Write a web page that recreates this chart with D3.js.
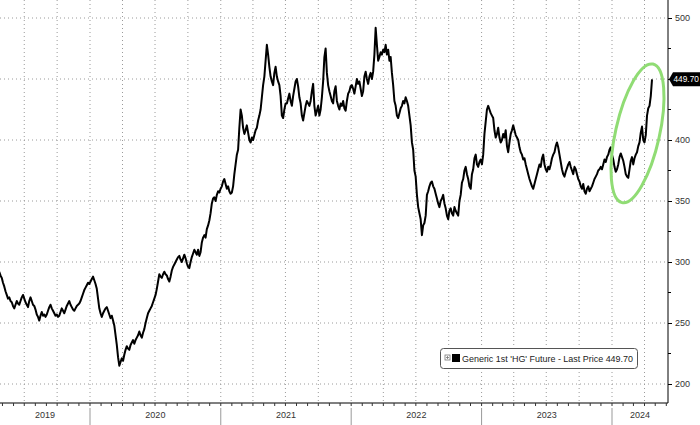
<!DOCTYPE html>
<html><head><meta charset="utf-8">
<script src="https://cdn.jsdelivr.net/npm/d3@7"></script>
<style>html,body{margin:0;padding:0;background:#fff;}svg{display:block;}</style>
</head><body>
<svg id="c" width="700" height="425"></svg>
<script>
// ---- data (twice-weekly readings, HG copper front-month, US cents/lb) ----
const startDate = "2019-04-22";
const values2019 = [292,289,287,283, 280,276,273,270,271,268,267,264, 262,265,268,266,265,268,271,273,
  270,267,265,263,268,271,268,265,264,261, 257,255,252,256,259,256,257,255,
  257,260,263,265,262,260,258,256,257,255, 256,259,262,260,258,261,264,266,
  268,265,263,261,260,262,264,265, 266,268,271,274,277,279,281,283,282,284];
const values2020 = [286,288,285,282,278,270,262,258, 255,258,260,262,263,260,257,254,
  256,252,248,240,232,222,215,218,221,219, 224,228,231,229,228,232,234,236,
  233,236,238,240,243,240,238,242, 245,250,254,258,260,262,264,267,270,273,
  278,284,290,288,287,290,292,290, 289,286,284,288,293,296,298,300,302,304,
  305,302,300,303,306,303,299,296, 295,300,304,307,310,308,306,310,
  305,308,316,320,322,320,327,330,334,340, 348,352,353,350,355,358,357,360];
const values2021 = [362,366,368,364,360,362,358,356, 357,362,372,380,388,392,410,425,
  420,410,405,408,412,406,400,398,402,400, 404,408,410,416,420,425,435,445,
  452,465,478,470,460,452,448,445,455,460, 452,448,445,436,420,418,425,430,
  430,434,438,432,428,436,442,448, 450,444,435,430,420,416,422,428,432,430,
  428,432,440,446,428,420,424,428, 420,425,435,448,468,475,455,445,
  440,436,432,430,440,444,432,428,425,430, 428,432,426,424,432,438,440,444];
const values2022 = [445,442,438,444,450,446,448,442,436,440, 452,456,450,446,452,455,450,456,
  470,492,478,465,468,472,470,474, 472,478,470,474,465,468,455,445,
  432,428,420,418,422,426,428,432,430,435, 432,428,420,412,398,392,375,370,
  355,345,340,335,322,330,332,338, 355,358,362,365,366,362,360,356,352,348,
  345,350,352,355,348,344,338,335, 342,344,340,338,345,342,340,338,350,355,
  365,368,375,378,372,368,362,360, 372,376,385,388,380,378,382,384];
const values2023 = [380,388,405,415,425,428,425,422,420,418, 408,402,405,410,402,398,400,405,
  402,408,395,390,398,405,408,412, 408,404,402,400,394,390,388,384,
  385,380,376,372,368,365,362,360,364,368, 372,376,380,378,385,388,380,376,
  374,378,376,380,385,388,390,395,398,394, 388,382,376,372,370,374,377,380,
  382,378,375,372,378,376,372,368, 366,362,360,364,358,356,360,362,358,360,
  362,365,368,370,372,375,376,378, 376,380,384,382,386,388,392,394];
const values2024 = [388,384,378,374,376,380,386,389,386,383, 378,372,370,369,376,383,386,380,
  385,388,390,395,398,406,411,400, 398,404,420,426,428,436,449.70];
const lastPrice = "449.70";
const yTicks = [200,250,300,350,400,450,500];
const yMinor = [225,275,325,375,425,475];
const yearLabels = ["2019","2020","2021","2022","2023","2024"];
const legendText = "Generic 1st 'HG' Future - Last Price 449.70";

const values = [].concat(values2019, values2020, values2021, values2022, values2023, values2024);
const t0 = d3.timeParse("%Y-%m-%d")(startDate);
const data = values.map((v,i)=>({date: d3.timeHour.offset(t0, i*84), value: v}));

const W = 700, H = 425, plotR = 668, plotB = 403;
const FONT = "Liberation Sans, Arial, sans-serif";
const svg = d3.select("#c");
const x = d3.scaleTime().domain([new Date(2020,0,1), new Date(2024,0,1)]).range([90, 612]);
const y = d3.scaleLinear().domain([200,500]).range([384,18]);
const xStart = x.invert(0), xEnd = x.invert(plotR);

// gridlines
const quarters = d3.timeMonth.every(3).range(xStart, xEnd);
svg.append("g").selectAll("line").data(quarters).join("line")
  .attr("x1", d=>x(d)).attr("x2", d=>x(d)).attr("y1", 0).attr("y2", plotB)
  .attr("stroke", "#9a9a9a").attr("stroke-width", 1).attr("stroke-dasharray", "1,3");
svg.append("g").selectAll("line").data(yTicks).join("line")
  .attr("x1", 0).attr("x2", plotR).attr("y1", d=>y(d)).attr("y2", d=>y(d))
  .attr("stroke", "#9a9a9a").attr("stroke-width", 1).attr("stroke-dasharray", "1,3");

// price line
const line = d3.line().x(d=>x(d.date)).y(d=>y(d.value));
svg.append("path").datum(data).attr("d", line)
  .attr("fill", "none").attr("stroke", "#000").attr("stroke-width", 2).attr("stroke-linejoin", "round");

// green ellipse highlight
const last = data[data.length-1];
svg.append("ellipse")
  .attr("cx", 0).attr("cy", 0).attr("rx", 22).attr("ry", 71)
  .attr("transform", `translate(${x(last.date)-14.5},${y(last.value)+54}) rotate(12.6)`)
  .attr("fill", "none").attr("stroke", "#90dc74").attr("stroke-width", 3);

// right axis (450 label is hidden behind the last-price tag)
const yAxis = d3.axisRight(y).tickValues(yTicks).tickSize(4).tickPadding(3)
  .tickFormat(d => d === 450 ? "" : d);
const ga = svg.append("g").attr("transform", `translate(${plotR},0)`).call(yAxis);
ga.select(".domain").remove();
ga.selectAll("text").attr("font-family", FONT).attr("font-size", 9).attr("fill", "#333");
ga.selectAll("line").attr("stroke", "#000");
svg.append("g").selectAll("line").data(yMinor).join("line")
  .attr("x1", plotR).attr("x2", plotR+3).attr("y1", d=>y(d)).attr("y2", d=>y(d)).attr("stroke", "#000");
svg.append("line").attr("x1", plotR).attr("x2", plotR).attr("y1", 0).attr("y2", plotB).attr("stroke", "#000");

// bottom axis
svg.append("line").attr("x1", 0).attr("x2", plotR).attr("y1", plotB).attr("y2", plotB).attr("stroke", "#000");
const months = d3.timeMonth.every(1).range(xStart, xEnd);
svg.append("g").selectAll("line").data(months).join("line")
  .attr("x1", d=>x(d)).attr("x2", d=>x(d)).attr("y1", plotB).attr("y2", plotB+3).attr("stroke", "#333");
const years = d3.timeYear.range(d3.timeYear.floor(xStart), d3.timeYear.offset(xEnd,1));
svg.append("g").selectAll("line").data(years.filter(d=>x(d)>0 && x(d)<plotR)).join("line")
  .attr("x1", d=>x(d)).attr("x2", d=>x(d)).attr("y1", plotB+5).attr("y2", H)
  .attr("stroke", "#999").attr("stroke-width", 1);
svg.append("g").selectAll("text").data(years.slice(0, yearLabels.length)).join("text")
  .attr("x", d=>{ const a=Math.max(0,x(d)), b=Math.min(plotR, x(d3.timeYear.offset(d,1))); return (a+b)/2; })
  .attr("y", 418).attr("text-anchor", "middle")
  .attr("font-family", FONT).attr("font-size", 9).attr("fill", "#333")
  .text((d,i)=>yearLabels[i]);

// last price tag
const ly = y(last.value);
svg.append("path").attr("d", `M${plotR+1},${ly} L${plotR+5},${ly-7} L${W},${ly-7} L${W},${ly+7} L${plotR+5},${ly+7} Z`).attr("fill", "#000");
svg.append("text").attr("x", plotR+5.5).attr("y", ly+3).attr("font-family", FONT)
  .attr("font-size", 8.3).attr("fill", "#fff").text(lastPrice);

// legend
const lg = svg.append("g").attr("transform", "translate(440,348)");
lg.append("rect").attr("x", 0.5).attr("y", 0.5).attr("width", 197).attr("height", 20).attr("rx", 3)
  .attr("fill", "#fff").attr("stroke", "#555");
lg.append("rect").attr("x", 5).attr("y", 7).attr("width", 5).attr("height", 5).attr("fill", "#fff").attr("stroke", "#777").attr("stroke-width", 0.8);
lg.append("line").attr("x1", 6).attr("x2", 9).attr("y1", 9.5).attr("y2", 9.5).attr("stroke", "#777").attr("stroke-width", 0.8);
lg.append("line").attr("x1", 7.5).attr("x2", 7.5).attr("y1", 8).attr("y2", 11).attr("stroke", "#777").attr("stroke-width", 0.8);
lg.append("rect").attr("x", 12).attr("y", 6).attr("width", 8).attr("height", 8).attr("fill", "#000");
lg.append("text").attr("x", 22).attr("y", 13.5).attr("font-family", FONT)
  .attr("font-size", 9.5).attr("fill", "#222").attr("textLength", 171).attr("lengthAdjust", "spacingAndGlyphs")
  .text(legendText);
</script>
</body></html>
